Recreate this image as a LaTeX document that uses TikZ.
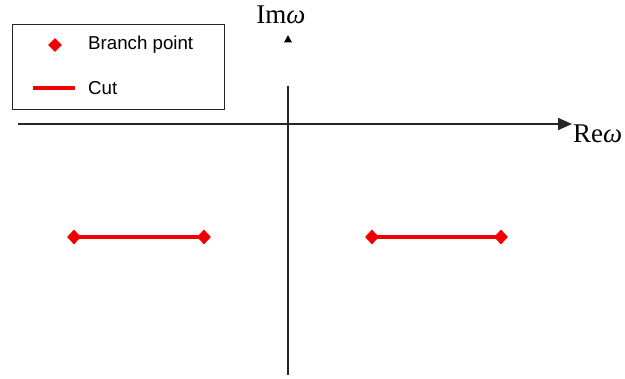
\documentclass[tikz,border=0pt]{standalone}
\usepackage{fontspec}
\setmainfont{Liberation Serif}
\newfontfamily\legfont{Liberation Sans}
\usetikzlibrary{shapes.geometric,arrows.meta}
\definecolor{cutred}{RGB}{240,0,0}
\begin{document}
\begin{tikzpicture}[x=1pt,y=-1pt,
  bp/.style={diamond,fill=cutred,inner sep=0pt,minimum width=14pt,minimum height=15pt},
  cutline/.style={draw=cutred,line width=4.5pt},
  axis/.style={draw=black!85,line width=1.6pt},
  legtext/.style={anchor=west,inner sep=0pt,font=\legfont\fontsize{18.7}{22}\selectfont},
  axlabel/.style={inner sep=0pt,font=\fontsize{27}{30}\selectfont}]
\useasboundingbox (0,0) rectangle (625,379);
% legend
\node[draw=black!85,line width=1.3pt,minimum width=212pt,minimum height=85pt,anchor=north west,inner sep=0pt] (legend) at (12,24) {};
\node[bp,minimum width=14pt,minimum height=14pt] (lbp) at (55,45) {};
\node[legtext] (lbptext) at (88,45) {Branch point};
\coordinate (lcA) at (33,88);
\coordinate (lcB) at (75,88);
\draw[cutline] (lcA) -- (lcB);
\node[legtext] (lcuttext) at (88,88) {Cut};
% axes
\coordinate (xL) at (18,124);
\coordinate (xR) at (572,124);
\draw[axis,-{Triangle[length=14pt,width=12pt]}] (xL) -- (xR);
\node[axlabel,anchor=west] (re) at (573,134) {Re{\itshape ω}};
\coordinate (yT) at (288,86);
\coordinate (yB) at (288,375);
\draw[axis] (yT) -- (yB);
\node[isosceles triangle,shape border rotate=90,fill=black,inner sep=0pt,minimum height=7pt,minimum width=8pt,isosceles triangle stretches] (tri) at (288,40) {};
\node[axlabel] (im) at (281,15) {Im{\itshape ω}};
% cuts
\node[bp] (a1) at (74,237) {};
\node[bp] (a2) at (204,237) {};
\node[bp] (b1) at (372,237) {};
\node[bp] (b2) at (501,237) {};
\draw[cutline] (a1.center) -- (a2.center);
\draw[cutline] (b1.center) -- (b2.center);
\end{tikzpicture}
\end{document}
